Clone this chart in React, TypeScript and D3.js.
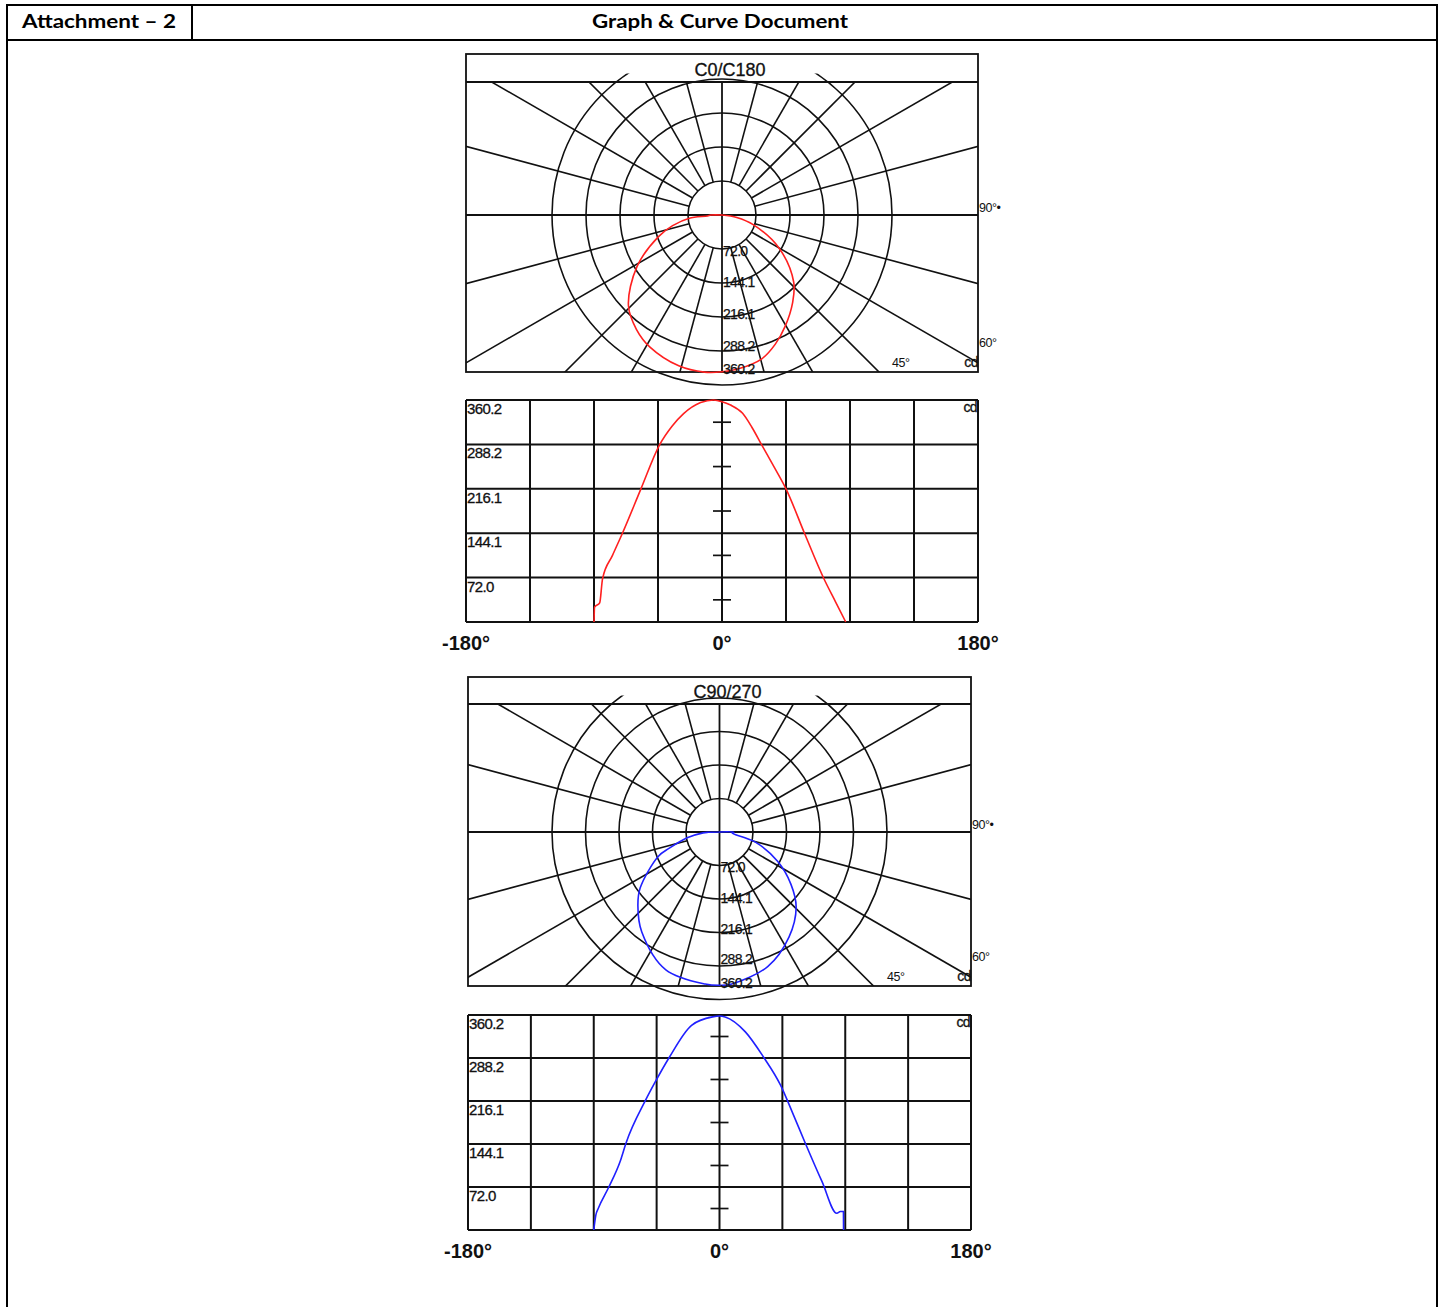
import React from 'react';
import * as d3 from 'd3';

// photometric data (gamma angle in degrees, intensity in cd)
const CD_MAX = 360.2;
const CD_TICKS = [72.0, 144.1, 216.1, 288.2, 360.2];
const ANGLE_TICKS = [-180, 0, 180];
const POLAR_ANGLE_LABELS = ['90°•', '60°', '45°'];

const c0Angles = [-90, -89.6, -86, -84, -77, -70, -57, -44, -35, -27, -15, -6, 0, 6, 14.5, 21, 28, 37, 45, 58, 71.5, 80, 87];
const c0Values = [0, 24, 31, 70, 108, 144, 216, 287, 318, 338, 356, 360.2, 357.5, 352, 338.6, 316, 287, 250, 216, 144, 71, 32, 0];

const c90Angles = [-90, -88.5, -86.8, -79.2, -70.8, -67, -53, -46, -36, -20, -5, 0, 4, 18.5, 31.7, 43.6, 52, 61.5, 73.4, 84, 86.5, 88.7, 88.8];
const c90Values = [0, 25, 36, 72, 117, 145, 217, 248, 289, 343, 357, 358.5, 357, 332, 289, 243, 198, 145, 81, 28, 31, 31, 0];

const FONT = "'Liberation Sans', Arial, sans-serif";
const INK = '#111';

const panels = [
  {
    id: 'c0', title: 'C0/C180', color: '#ff2020', angles: c0Angles, values: c0Values,
    polar: { x0: 466, x1: 978, y0: 54, titleY: 82, y1: 372, cy: 215, ring: 34, curveR: 158 },
    linear: { x0: 466, x1: 978, y0: 400, y1: 622 },
  },
  {
    id: 'c90', title: 'C90/270', color: '#2020ff', angles: c90Angles, values: c90Values,
    polar: { x0: 468, x1: 971, y0: 677, titleY: 704, y1: 986, cy: 832, ring: 33.5, curveR: 154 },
    linear: { x0: 468, x1: 971, y0: 1015, y1: 1230 },
  },
];

const POLAR_STRETCH = 1.07;

function Polar({ p }) {
  const b = p.polar;
  const cx = (b.x0 + b.x1) / 2;
  const r = d3.scaleLinear().domain([0, CD_MAX]).range([0, b.curveR]);
  const pts = p.angles.map((a, i) => [a, p.values[i]]);
  const curve = d3.lineRadial()
    .angle(d => Math.PI - (d[0] * Math.PI) / 180)
    .radius(d => r(d[1]))
    .curve(d3.curveCatmullRom.alpha(0.5))(pts);

  const rings = d3.range(1, 6).map(i => i * b.ring);
  const spokes = d3.range(0, 360, 15).filter(a => a % 90 !== 0);
  const gridClip = `grid-${p.id}`;
  const ringClip = `ring-${p.id}`;
  const labelStep = b.curveR / 5;

  return (
    <g>
      <defs>
        <clipPath id={gridClip}>
          <rect x={b.x0} y={b.titleY} width={b.x1 - b.x0} height={b.y1 - b.titleY} />
        </clipPath>
        <clipPath id={ringClip}>
          <rect x={b.x0} y={b.titleY - 8.5} width={b.x1 - b.x0} height={b.y1 - b.titleY + 40} />
        </clipPath>
      </defs>
      <g clipPath={`url(#${gridClip})`} stroke={INK} strokeWidth={1.6} fill="none">
        {spokes.map(a => {
          const t = (a * Math.PI) / 180;
          return (
            <line key={a}
              x1={cx + b.ring * Math.cos(t)} y1={b.cy - b.ring * Math.sin(t)}
              x2={cx + 900 * Math.cos(t)} y2={b.cy - 900 * Math.sin(t)} />
          );
        })}
        <line x1={b.x0} x2={b.x1} y1={b.cy} y2={b.cy} strokeWidth={1.8} />
        <line x1={cx} x2={cx} y1={b.titleY} y2={b.y1} strokeWidth={1.8} />
      </g>
      <g clipPath={`url(#${ringClip})`} stroke={INK} strokeWidth={1.6} fill="none">
        {rings.map(rr => <circle key={rr} cx={cx} cy={b.cy} r={rr} />)}
      </g>
      <rect x={b.x0} y={b.y0} width={b.x1 - b.x0} height={b.y1 - b.y0} fill="none" stroke={INK} strokeWidth={1.8} />
      <line x1={b.x0} x2={b.x1} y1={b.titleY} y2={b.titleY} stroke={INK} strokeWidth={1.8} />
      <path d={curve} transform={`translate(${cx},${b.cy}) scale(${POLAR_STRETCH},1)`}
        fill="none" stroke={p.color} strokeWidth={1.6} vectorEffect="non-scaling-stroke" />
      <text x={cx + 8} y={b.titleY - 6} textAnchor="middle" fontFamily={FONT} fontSize={18}
        fill="#111" stroke="#111" strokeWidth={0.3}>{p.title}</text>
      <g fontFamily={FONT} fontSize={14} fill="#111" stroke="#111" strokeWidth={0.25} letterSpacing={-0.7}>
        {CD_TICKS.map((v, i) => {
          const yy = Math.min(b.cy + labelStep * (i + 1) + 5.5, b.y1 - 1.5);
          return <text key={v} x={cx + 1} y={yy} dominantBaseline="middle">{v.toFixed(1)}</text>;
        })}
      </g>
      <g fontFamily={FONT} fontSize={12.5} fill="#111" letterSpacing={-0.5}>
        <text x={b.x1 + 1} y={b.cy - 6} dominantBaseline="middle">{POLAR_ANGLE_LABELS[0]}</text>
        <text x={b.x1 + 1} y={b.y1 - 28.5} dominantBaseline="middle">{POLAR_ANGLE_LABELS[1]}</text>
        <text x={cx + 5 * b.ring} y={b.y1 - 8.5} dominantBaseline="middle">{POLAR_ANGLE_LABELS[2]}</text>
        <text x={b.x1} y={b.y1 - 8.5} dominantBaseline="middle" textAnchor="end" fontSize={14}
          stroke="#111" strokeWidth={0.3}>cd</text>
      </g>
    </g>
  );
}

function Linear({ p }) {
  const b = p.linear;
  const x = d3.scaleLinear().domain([-180, 180]).range([b.x0, b.x1]);
  const y = d3.scaleLinear().domain([0, CD_MAX]).range([b.y1, b.y0]);
  const line = d3.line()
    .x(d => x(d[0]))
    .y(d => y(d[1]))
    .curve(d3.curveMonotoneX);
  const pts = p.angles.map((a, i) => [a, p.values[i]]);
  const xGrid = d3.range(-180, 181, 45);
  const yGrid = [0, ...CD_TICKS];
  const mids = CD_TICKS.map(v => v - CD_MAX / 10);

  return (
    <g>
      <g stroke={INK} strokeWidth={2}>
        {xGrid.map(a => <line key={a} x1={x(a)} x2={x(a)} y1={b.y0} y2={b.y1} />)}
        {yGrid.map(v => <line key={v} x1={b.x0} x2={b.x1} y1={y(v)} y2={y(v)} />)}
        {mids.map(v => <line key={v} x1={x(0) - 9} x2={x(0) + 9} y1={y(v)} y2={y(v)} strokeWidth={1.7} />)}
      </g>
      <path d={line(pts)} fill="none" stroke={p.color} strokeWidth={1.6} />
      <g fontFamily={FONT} fontSize={15} fill="#111" stroke="#111" strokeWidth={0.3} letterSpacing={-0.6}>
        {CD_TICKS.slice().reverse().map(v => (
          <text key={v} x={b.x0 + 1} y={y(v) + 14}>{v.toFixed(1)}</text>
        ))}
        <text x={b.x1 - 1} y={b.y0 + 12} textAnchor="end" fontSize={14}>cd</text>
      </g>
      <g fontFamily={FONT} fontSize={20} fontWeight="bold" fill="#111">
        {ANGLE_TICKS.map(a => (
          <text key={a} x={x(a)} y={b.y1 + 28} textAnchor="middle">{`${a}°`}</text>
        ))}
      </g>
    </g>
  );
}

export default function App() {
  const W = 1441;
  const H = 1307;
  return (
    <svg width={W} height={H} style={{ position: 'absolute', left: 0, top: 0, display: 'block', background: '#fff' }}>
      <rect width={W} height={H} fill="#fff" />
      <g stroke="#000" strokeWidth={2} fill="none">
        <line x1={6} x2={1438} y1={5} y2={5} />
        <line x1={6} x2={1438} y1={40} y2={40} />
        <line x1={7} x2={7} y1={4} y2={H} />
        <line x1={1437} x2={1437} y1={4} y2={H} />
        <line x1={192} x2={192} y1={4} y2={40} />
      </g>
      <g fontFamily="Lato, 'Open Sans', sans-serif" fontWeight="bold" fontSize={19} fill="#000">
        <text x={22} y={28} textLength={154} lengthAdjust="spacingAndGlyphs">Attachment – 2</text>
        <text x={720} y={28} textAnchor="middle" textLength={256} lengthAdjust="spacingAndGlyphs">Graph &amp; Curve Document</text>
      </g>
      {panels.map(p => (
        <g key={p.id}>
          <Polar p={p} />
          <Linear p={p} />
        </g>
      ))}
    </svg>
  );
}
